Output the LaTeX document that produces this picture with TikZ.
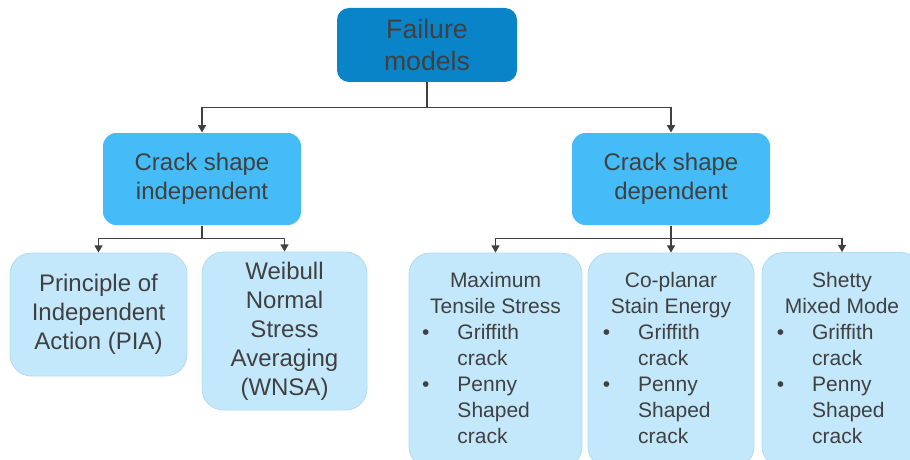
\documentclass[tikz,border=0pt]{standalone}
\usepackage{fontspec}
\setmainfont{Liberation Sans}
\usetikzlibrary{arrows.meta}

\definecolor{topblue}{RGB}{10,132,200}
\definecolor{midblue}{RGB}{69,187,248}
\definecolor{leafblue}{RGB}{195,232,252}
\definecolor{leafedge}{RGB}{178,218,238}
\definecolor{inkgray}{RGB}{64,64,64}

\newcommand{\critlist}[2]{\begin{tabular}{@{}l@{\hspace{21pt}}l@{}}
	\multicolumn{2}{c}{#1}\\ \multicolumn{2}{c}{#2}\\
	\textbullet & Griffith\\ & crack\\
	\textbullet & Penny\\ & Shaped\\ & crack
	\end{tabular}}

\tikzset{every picture/.style={line width=0.75pt}}
\tikzset{
	rootbox/.style={fill=topblue, rounded corners=9pt, minimum width=135pt, minimum height=55.5pt, align=center, text=inkgray, font=\fontsize{20}{24}\selectfont},
	groupbox/.style={fill=midblue, rounded corners=10pt, minimum width=148.5pt, minimum height=69pt, align=center, text=inkgray, font=\fontsize{18}{21.75}\selectfont},
	leafbox/.style={fill=leafblue, draw=leafedge, line width=0.6pt, rounded corners=16pt, align=center, text=inkgray, font=\fontsize{18}{21.75}\selectfont},
	critbox/.style={leafbox, minimum height=161.25pt, font=\fontsize{15.75}{19.5}\selectfont},
	link/.style={draw=inkgray, line width=1.1pt, -{Triangle[length=5.5pt,width=6pt]}}}

\begin{document}
\begin{tikzpicture}[x=0.75pt,y=0.75pt,yscale=-1,xscale=1]
	\clip (0,0) rectangle (910,460);

	%Shape: Rounded Rect [id:root]
	\node[rootbox] (root) at (427,45) {Failure\\models};
	%Shape: Rounded Rect [id:indep]
	\node[groupbox] (indep) at (202,179) {Crack shape\\independent};
	%Shape: Rounded Rect [id:dep]
	\node[groupbox] (dep) at (671,179) {Crack shape\\dependent};

	%Shape: Rounded Rect [id:pia]
	\node[leafbox, minimum width=132.75pt, minimum height=92.25pt] (pia) at (98.5,314.5) {Principle of\\Independent\\Action (PIA)};
	%Shape: Rounded Rect [id:wnsa]
	\node[leafbox, minimum width=123.75pt, minimum height=118.5pt] (wnsa) at (284.5,331) {Weibull\\Normal\\Stress\\Averaging\\(WNSA)};

	%Shape: Rounded Rect [id:maxts]
	\node[critbox, minimum width=129.75pt] (maxts) at (495.5,360.5) {\critlist{Maximum}{Tensile Stress}};
	%Shape: Rounded Rect [id:coplanar]
	\node[critbox, minimum width=124.5pt] (coplanar) at (671,360.5) {\critlist{Co-planar}{Stain Energy}};
	%Shape: Rounded Rect [id:shetty]
	\node[critbox, minimum width=120pt] (shetty) at (842,360) {\critlist{Shetty}{Mixed Mode}};

	%Straight Lines
	\draw[link] (root.south) -- ++(0,25) -| (indep.north);
	\draw[link] (root.south) -- ++(0,25) -| (dep.north);
	%Straight Lines
	\draw[link] (indep.south) -- ++(0,13) -| (pia.north);
	\draw[link] (indep.south) -- ++(0,13) -| (wnsa.north);
	%Straight Lines
	\draw[link] (dep.south) -- ++(0,13) -| (maxts.north);
	\draw[link] (dep.south) -- ++(0,13) -| (coplanar.north);
	\draw[link] (dep.south) -- ++(0,13) -| (shetty.north);

\end{tikzpicture}
\end{document}
